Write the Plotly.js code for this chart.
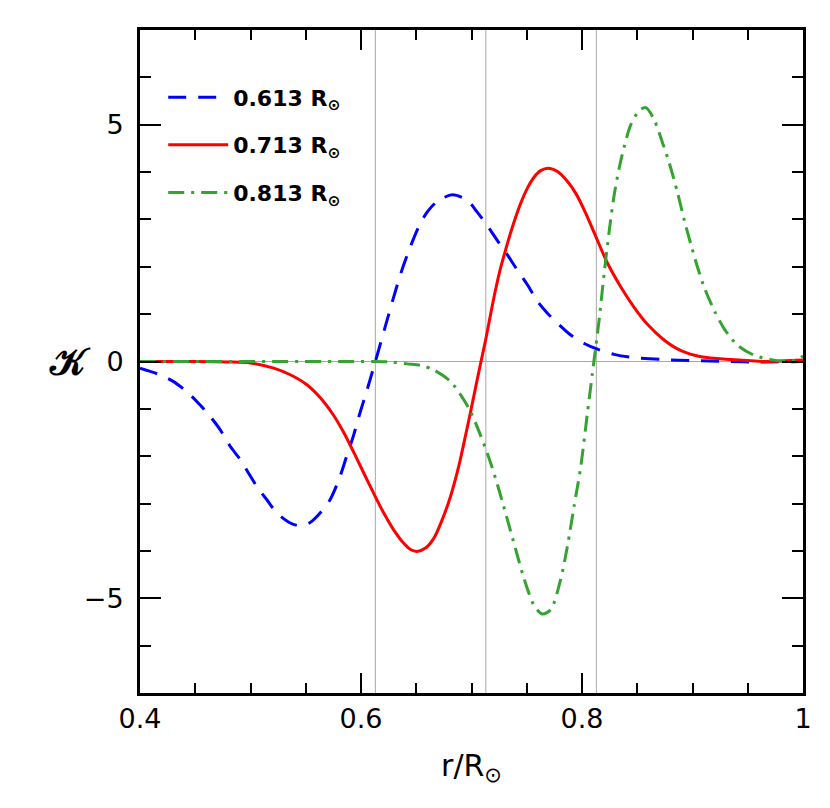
<!DOCTYPE html>
<html>
<head>
<meta charset="utf-8">
<script src="https://cdn.plot.ly/plotly-3.0.1.min.js"></script>
<style>
  html, body { margin: 0; padding: 0; background: #fff; }
  #kernels { width: 830px; height: 808px; }
</style>
</head>
<body>
<div id="kernels"></div>
<script>
// kernel target radii (also the grey reference lines)
var refRadii = [0.613, 0.713, 0.813];
var seriesNames = ["0.613 R<sub>⊙</sub>", "0.713 R<sub>⊙</sub>", "0.813 R<sub>⊙</sub>"];

// values
var r613 = [0.400, 0.418, 0.430, 0.444, 0.454, 0.4635, 0.4725, 0.4816, 0.4907, 0.498, 0.5058, 0.5148, 0.524, 0.536, 0.545,
    0.554, 0.563, 0.572, 0.581, 0.587, 0.593, 0.599, 0.6055, 0.613, 0.622, 0.6297, 0.637, 0.6448, 0.6523, 0.660, 0.669,
    0.6826, 0.696, 0.705, 0.714, 0.723, 0.7325, 0.7415, 0.7506, 0.7597, 0.7687, 0.7778, 0.7898, 0.802, 0.814, 0.829,
    0.844, 0.874, 0.900, 0.930, 0.960, 1.000];
var k613 = [-0.14, -0.28, -0.42, -0.67, -0.91, -1.16, -1.44, -1.79, -2.07, -2.35, -2.64, -2.92, -3.20, -3.41, -3.47,
    -3.40, -3.20, -2.92, -2.43, -2.00, -1.58, -1.09, -0.60, 0.00, 0.74, 1.37, 1.93, 2.43, 2.85, 3.16, 3.38,
    3.52, 3.41, 3.16, 2.88, 2.57, 2.25, 1.93, 1.62, 1.27, 1.02, 0.81, 0.56, 0.38, 0.26, 0.15,
    0.09, 0.04, 0.02, 0.00, -0.01, 0.00];

var r713 = [0.400, 0.450, 0.480, 0.500, 0.521, 0.536, 0.551, 0.563, 0.5753, 0.5844, 0.5935, 0.6026, 0.6116, 0.6206,
    0.6297, 0.6387, 0.6448, 0.6508, 0.6584, 0.666, 0.6735, 0.681, 0.6886, 0.695, 0.7015, 0.7075, 0.713, 0.7173,
    0.7218, 0.7264, 0.7309, 0.7354, 0.740, 0.7445, 0.7506, 0.7566, 0.7626, 0.7693, 0.7778, 0.7869, 0.7944, 0.803,
    0.811, 0.823, 0.835, 0.847, 0.8594, 0.8745, 0.8896, 0.9077, 0.935, 0.965, 1.000];
var k713 = [0.00, 0.00, -0.01, -0.03, -0.14, -0.28, -0.49, -0.76, -1.14, -1.50, -1.92, -2.36, -2.79, -3.20,
    -3.56, -3.84, -3.97, -4.01, -3.94, -3.73, -3.34, -2.85, -2.20, -1.52, -0.80, -0.12, 0.48, 1.00,
    1.52, 1.98, 2.36, 2.72, 3.05, 3.34, 3.66, 3.89, 4.03, 4.08, 4.01, 3.80, 3.55, 3.15,
    2.72, 2.08, 1.58, 1.15, 0.78, 0.45, 0.23, 0.10, 0.04, 0.00, 0.03];

var r813 = [0.400, 0.600, 0.627, 0.6418, 0.6538, 0.666, 0.681, 0.690, 0.699, 0.708, 0.7157, 0.7218, 0.7278, 0.7338,
    0.7399, 0.7475, 0.7566, 0.764, 0.7717, 0.7807, 0.7868, 0.7928, 0.7989, 0.8049, 0.8094, 0.8124, 0.8155, 0.820,
    0.8246, 0.829, 0.8336, 0.838, 0.8442, 0.8518, 0.8578, 0.8654, 0.873, 0.879, 0.8866, 0.8926, 0.8987, 0.9047,
    0.9107, 0.920, 0.929, 0.941, 0.956, 0.971, 0.9863, 0.995, 1.000];
var k813 = [0.00, 0.00, -0.01, -0.05, -0.08, -0.18, -0.42, -0.70, -1.05, -1.55, -2.03, -2.47, -2.95, -3.45,
    -3.96, -4.58, -5.15, -5.33, -5.24, -4.60, -3.90, -3.06, -2.22, -1.09, -0.25, 0.30, 0.88, 1.85,
    2.75, 3.50, 4.08, 4.52, 5.00, 5.30, 5.36, 5.10, 4.61, 4.19, 3.55, 2.98, 2.46, 1.98,
    1.56, 1.06, 0.68, 0.34, 0.13, 0.04, 0.00, 0.04, 0.12];

var fnt = "DejaVu Sans, Liberation Sans, sans-serif";

function kernel(x, y, i, color, dash) {
    return {
        x: x, y: y, name: seriesNames[i], legendgroup: "g" + i,
        type: "scatter", mode: "lines",
        line: { color: color, width: 3, dash: dash, shape: "spline", smoothing: 0.8 }
    };
}

var traces = [
    kernel(r613, k613, 0, "#0000ff", "18px,12px"),
    kernel(r713, k713, 1, "#ff0000", "solid"),
    kernel(r813, k813, 2, "#35a32f", "16px,7px,3px,7px")
];

var shapes = [];
for (let r of refRadii) {
    shapes.push({
        type: "line", xref: "x", yref: "paper", x0: r, x1: r, y0: 0, y1: 1,
        layer: "below", line: { color: "#a8a8a8", width: 1 }
    });
}

var layout = {
    width: 830, height: 808,
    margin: { l: 140, r: 27, t: 30, b: 115 },
    paper_bgcolor: "#fff", plot_bgcolor: "#fff",
    font: { family: fnt, color: "#000" },
    showlegend: true,
    legend: {
        x: 0.035, y: 0.93, xanchor: "left", yanchor: "top",
        bgcolor: "rgba(0,0,0,0)", borderwidth: 0,
        font: { family: fnt, size: 22, weight: "bold", color: "#000" },
        traceorder: "grouped", tracegroupgap: 16, itemwidth: 60
    },
    xaxis: {
        range: [0.4, 1], tick0: 0.4, dtick: 0.2,
        ticks: "inside", ticklen: 20, tickwidth: 2, tickcolor: "#000",
        minor: { dtick: 0.05, ticks: "inside", ticklen: 10, tickwidth: 2, tickcolor: "#000" },
        showline: true, linewidth: 3, linecolor: "#000", mirror: "allticks",
        showgrid: false, zeroline: false,
        tickfont: { family: fnt, size: 27 },
        title: { text: "r/R<sub>⊙</sub>", font: { family: fnt, size: 30 }, standoff: 22 }
    },
    yaxis: {
        range: [-7, 7], tick0: 0, dtick: 5,
        ticks: "inside", ticklen: 21, tickwidth: 2, tickcolor: "#000",
        minor: { dtick: 1, ticks: "inside", ticklen: 11, tickwidth: 2, tickcolor: "#000" },
        showline: true, linewidth: 3, linecolor: "#000", mirror: "allticks",
        showgrid: false,
        zeroline: true, zerolinecolor: "#a8a8a8", zerolinewidth: 1,
        tickfont: { family: fnt, size: 27 }, ticklabelstandoff: 8
    },
    shapes: shapes,
    annotations: [{
        text: "𝒦", xref: "paper", yref: "paper", x: 0, y: 0.5,
        xanchor: "center", yanchor: "middle", xshift: -70, showarrow: false,
        font: { family: "DejaVu Serif, Noto Sans, serif", size: 38, weight: "bold", color: "#000" }
    }]
};

Plotly.newPlot("kernels", traces, layout, { staticPlot: true, responsive: false });
</script>
</body>
</html>
